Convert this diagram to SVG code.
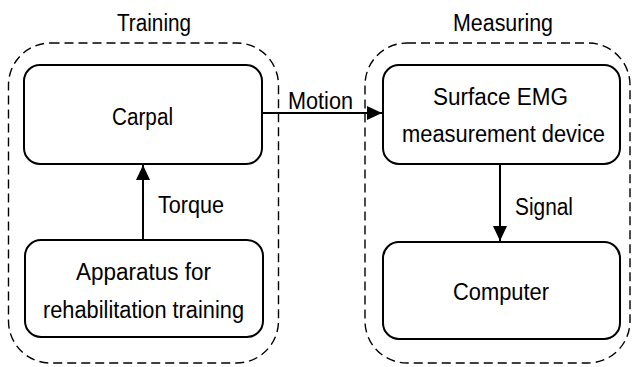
<svg xmlns="http://www.w3.org/2000/svg" width="632" height="367" viewBox="0 0 632 367">
<style>
.grp{fill:none;stroke:#000;stroke-width:1.4;stroke-dasharray:9 5}
.box{fill:#fff;stroke:#000;stroke-width:2}
.t{font-family:"Liberation Sans",Arial,sans-serif;font-size:23.5px;fill:#000}
.ln{stroke:#000;stroke-width:2;fill:none}
</style>
<defs>
<marker id="ah" viewBox="0 0 15 14" refX="15" refY="7" markerWidth="15" markerHeight="14" markerUnits="userSpaceOnUse" orient="auto">
<path d="M0,0 L15,7 L0,14 Z" fill="#000"/>
</marker>
</defs>
<g id="training">
<rect class="grp" x="8.5" y="43" width="270" height="320" rx="42"/>
<text class="t" x="117" y="31" textLength="74" lengthAdjust="spacingAndGlyphs">Training</text>
</g>
<g id="measuring">
<rect class="grp" x="365" y="43" width="265" height="320" rx="42"/>
<text class="t" x="453" y="31" textLength="100" lengthAdjust="spacingAndGlyphs">Measuring</text>
</g>
<g id="carpal">
<rect class="box" x="24" y="65" width="238" height="99" rx="16"/>
<text class="t" x="112" y="125" textLength="61" lengthAdjust="spacingAndGlyphs">Carpal</text>
</g>
<g id="apparatus">
<rect class="box" x="25" y="240" width="238" height="97" rx="16"/>
<text class="t" x="76" y="280" textLength="135" lengthAdjust="spacingAndGlyphs">Apparatus for</text>
<text class="t" x="43" y="318" textLength="201" lengthAdjust="spacingAndGlyphs">rehabilitation training</text>
</g>
<g id="emg">
<rect class="box" x="383" y="65" width="237" height="99" rx="16"/>
<text class="t" x="433" y="105" textLength="135" lengthAdjust="spacingAndGlyphs">Surface EMG</text>
<text class="t" x="402" y="142" textLength="203" lengthAdjust="spacingAndGlyphs">measurement device</text>
</g>
<g id="computer">
<rect class="box" x="383" y="242" width="237" height="97" rx="16"/>
<text class="t" x="453" y="300" textLength="96" lengthAdjust="spacingAndGlyphs">Computer</text>
</g>
<g id="connectors">
<line class="ln" x1="143" y1="240" x2="143" y2="165" marker-end="url(#ah)"/>
<text class="t" x="158" y="213" textLength="66" lengthAdjust="spacingAndGlyphs">Torque</text>
<line class="ln" x1="262" y1="113" x2="382" y2="113" marker-end="url(#ah)"/>
<text class="t" x="288" y="109" textLength="65" lengthAdjust="spacingAndGlyphs">Motion</text>
<line class="ln" x1="500" y1="164" x2="500" y2="241" marker-end="url(#ah)"/>
<text class="t" x="515" y="215" textLength="58" lengthAdjust="spacingAndGlyphs">Signal</text>
</g>
</svg>
